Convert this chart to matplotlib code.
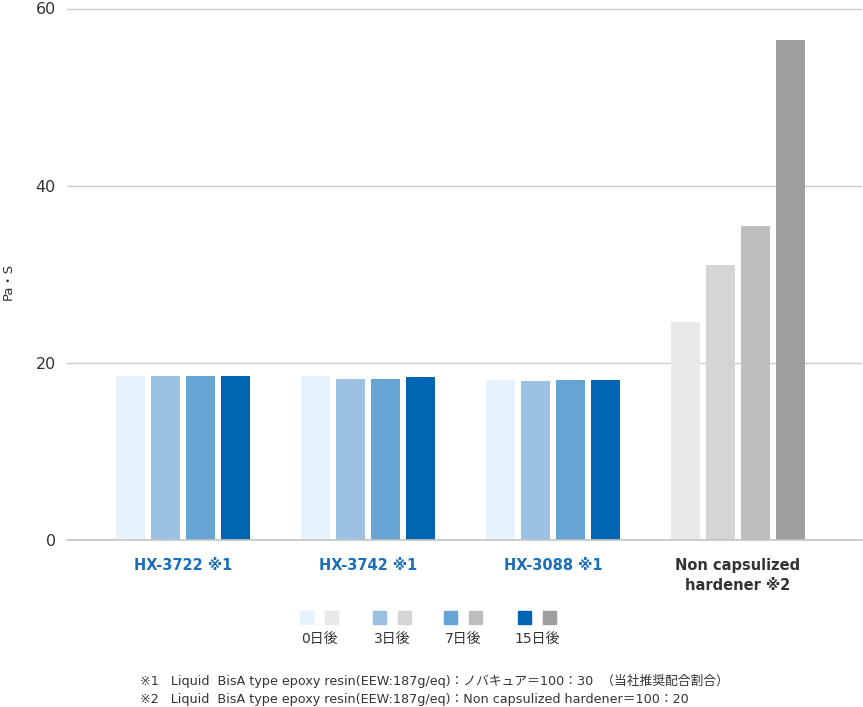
import numpy as np
import matplotlib.pyplot as plt
from matplotlib.patches import Rectangle

plt.rcParams['font.family'] = ['DejaVu Sans', 'Noto Sans CJK JP']

categories = ['HX-3722 ※1', 'HX-3742 ※1', 'HX-3088 ※1', 'Non capsulized\nhardener ※2']
days = ['0日後', '3日後', '7日後', '15日後']
# viscosity (Pa・S) per category, one list per day
day0 = [18.5, 18.5, 18.1, 24.6]
day3 = [18.5, 18.2, 18.0, 31.1]
day7 = [18.5, 18.2, 18.1, 35.5]
day15 = [18.5, 18.4, 18.1, 56.4]
series = [day0, day3, day7, day15]

blues = ['#E6F2FD', '#9BC2E3', '#66A4D3', '#0066B3']
grays = ['#E8E8E8', '#D5D5D5', '#BEBEBE', '#9E9E9E']

footnotes = ['※1   Liquid  BisA type epoxy resin(EEW:187g/eq)：ノバキュア＝100：30  （当社推奨配合割合）',
             '※2   Liquid  BisA type epoxy resin(EEW:187g/eq)：Non capsulized hardener＝100：20']

W, H = 863, 707
fig = plt.figure(figsize=(W / 100, H / 100), dpi=100)
ax = fig.add_axes([67 / W, (H - 540) / H, (862 - 67) / W, (540 - 8.5) / H])

x = np.arange(len(categories))
bw = 0.157
step = 0.189
for i, vals in enumerate(series):
    cols = [blues[i]] * 3 + [grays[i]]
    ax.bar(x + (i - 1.5) * step, vals, bw, color=cols, zorder=3)

ax.set_xlim((67 - 183) / 185, (862 - 183) / 185)
ax.set_ylim(0, 60)
ax.set_yticks([0, 20, 40, 60])
ax.grid(axis='y', color='#cccccc', linewidth=1, zorder=0)
ax.axhline(0, color='#c4c4c4', linewidth=1.2, clip_on=False, zorder=4)
for s in ax.spines.values():
    s.set_visible(False)
ax.tick_params(axis='both', length=0)
ax.tick_params(axis='y', labelsize=11.5, labelcolor='#333333', pad=8)
ax.set_xticks(x)
ax.set_xticklabels(categories, fontsize=10.5, fontweight='semibold', linespacing=1.45)
ax.tick_params(axis='x', pad=13)
for i, lab in enumerate(ax.get_xticklabels()):
    lab.set_color('#1a6fb8' if i < 3 else '#333333')

fig.text(8 / W, (H - 281) / H, 'Pa・S', rotation=90, ha='center', va='center',
         fontsize=9.5, color='#333333')

# legend: blue/gray square pairs with day labels under them
pair_x = [300, 373, 444, 518]
for i, d in enumerate(days):
    px = pair_x[i]
    fig.patches.append(Rectangle((px / W, (H - 624) / H), 13 / W, 13 / H,
                                 transform=fig.transFigure, color=blues[i]))
    fig.patches.append(Rectangle(((px + 25) / W, (H - 624) / H), 13 / W, 13 / H,
                                 transform=fig.transFigure, color=grays[i]))
    fig.text((px + 19) / W, (H - 639) / H, d, ha='center', va='center',
             fontsize=10, color='#333333')

for k, t in enumerate(footnotes):
    fig.text(140 / W, (H - 681 - k * 19) / H, t, ha='left', va='center',
             fontsize=9.2, color='#333333')

fig.savefig('out.png', dpi=100)
